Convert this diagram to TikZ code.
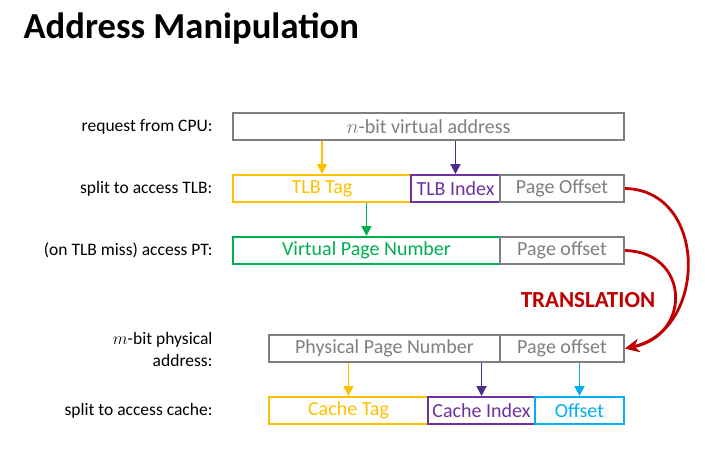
\documentclass[tikz,border=0pt]{standalone}
\usepackage{fontspec}
\setmainfont{Carlito}
\usepackage{tikz}
\usetikzlibrary{arrows.meta,positioning}
\definecolor{gy}{HTML}{7F7F7F}
\definecolor{yl}{HTML}{FFC000}
\definecolor{pu}{HTML}{7030A0}
\definecolor{pd}{HTML}{4B2A8A}
\definecolor{gn}{HTML}{00B050}
\definecolor{cy}{HTML}{00B0F0}
\definecolor{rd}{HTML}{C00000}

\begin{document}
\begin{tikzpicture}[x=1pt,y=-1pt,
  b/.style={draw=#1,text=#1,line width=2pt,minimum height=27pt,inner sep=0pt,font=\fontsize{20}{24}\selectfont},
  lb/.style={anchor=east,align=right,font=\fontsize{17.5}{22}\selectfont},
  ar/.style={-{Triangle[length=10pt,width=10pt]},line width=1.8pt},
  tr/.style={-{Stealth[length=14pt,width=13pt]},line width=2.8pt,rd}]
\useasboundingbox (0,0) rectangle (705,459);
\node[anchor=base west,font=\fontsize{36.6}{40}\selectfont\bfseries] (ttl) at (20,38) {Address Manipulation};
% labels on the left
\node[lb] (l1) at (216,126.5) {request from CPU:};
\node[lb] (l2) at (216,188.5) {split to access TLB:};
\node[lb] (l3) at (216,250.5) {(on TLB miss) access PT:};
\node[lb] (l4) at (216,349)   {$m$-bit physical\\address:};
\node[lb] (l5) at (216,410.5) {split to access cache:};
% address rows
\node[b=gy,minimum width=391pt] (va)  at (428.5,126.5) {$n$-bit virtual address};
\node[b=yl,minimum width=178pt] (tag) at (322,188.5)   {TLB Tag};
\node[b=pu,minimum width=89pt]  (idx) at (455.5,188.5) {TLB Index};
\node[b=gy,minimum width=124pt] (po2) at (562,188.5)   {Page Offset};
\node[b=gn,minimum width=267pt] (vpn) at (366.5,250.5) {Virtual Page Number};
\node[b=gy,minimum width=124pt] (po3) at (562,250.5)   {Page offset};
\node[b=gy,minimum width=231pt] (ppn) at (384.5,348.5) {Physical Page Number};
\node[b=gy,minimum width=124pt] (po4) at (562,348.5)   {Page offset};
\node[b=yl,minimum width=159pt] (ctg) at (348.5,410.5) {Cache Tag};
\node[b=pu,minimum width=107pt] (cix) at (481.5,410.5) {Cache Index};
\node[b=cy,minimum width=89pt]  (cof) at (579.5,410.5) {Offset};
\draw[ar,yl] (tag.north |- va.south) -- (tag.north);
\draw[ar,pd] (idx.north |- va.south) -- (idx.north);
\draw[ar,gn] (vpn.north |- tag.south) -- (vpn.north);
\draw[ar,yl] (ctg.north |- ppn.south) -- (ctg.north);
\draw[ar,pd] (cix.north |- ppn.south) -- (cix.north);
\draw[ar,cy] (cof.north |- po4.south) -- (cof.north);
% translation
\draw[tr] (po2.east) .. controls (708,190) and (708,330) .. (po4.east);
\draw[tr] (po3.east) .. controls (690,252) and (692,335) .. (po4.east);
\node[text=rd,font=\fontsize{23}{26}\selectfont\bfseries] (trn) at (588,300) {TRANSLATION};
\end{tikzpicture}
\end{document}
